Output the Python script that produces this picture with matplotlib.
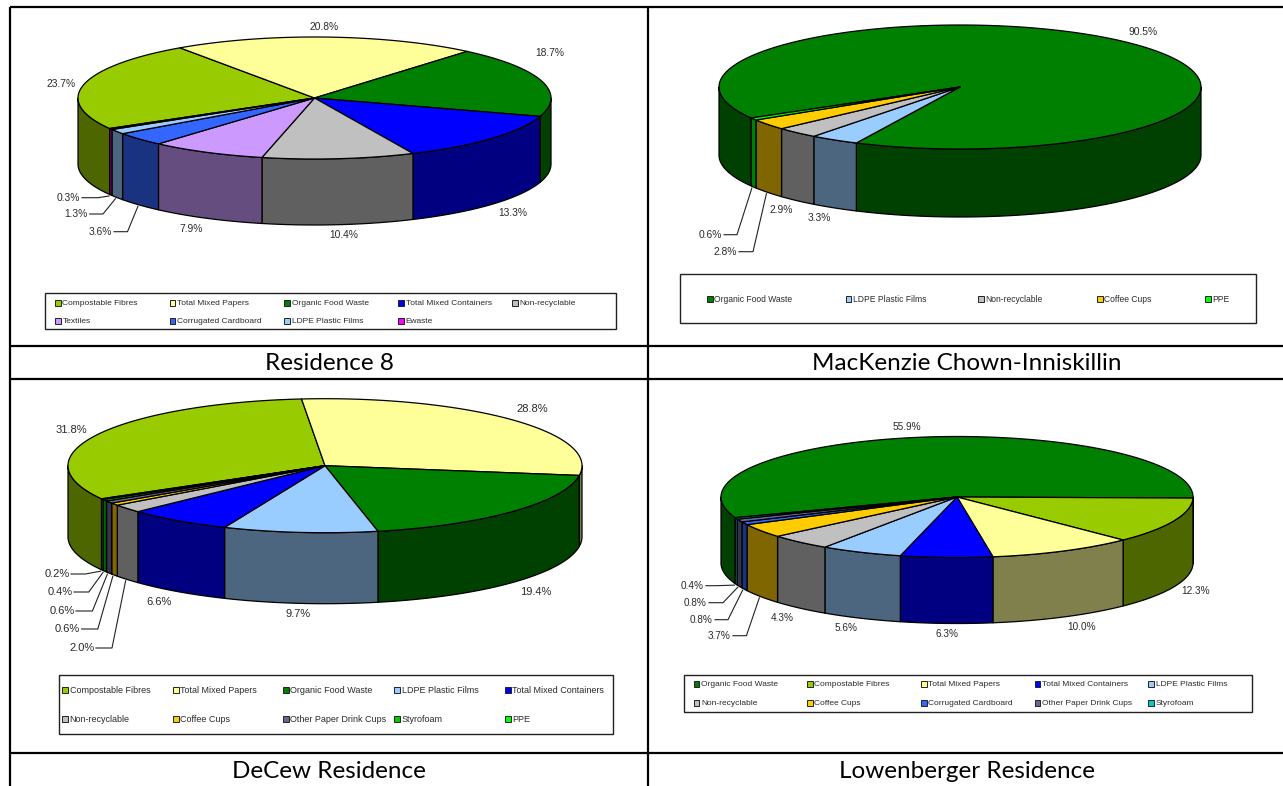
#!/usr/bin/env python3

import numpy as np
import matplotlib
matplotlib.use('Agg')
import matplotlib.pyplot as plt
from matplotlib.patches import Polygon, Rectangle

titles = ['Residence 8', 'MacKenzie Chown-Inniskillin', 'DeCew Residence',
    'Lowenberger Residence']

names_a = ['Compostable Fibres', 'Total Mixed Papers', 'Organic Food Waste',
    'Total Mixed Containers', 'Non-recyclable', 'Textiles',
    'Corrugated Cardboard', 'LDPE Plastic Films', 'Ewaste']
values_a = [23.7, 20.8, 18.7, 13.3, 10.4, 7.9, 3.6, 1.3, 0.3]

names_b = ['Organic Food Waste', 'LDPE Plastic Films', 'Non-recyclable',
    'Coffee Cups', 'PPE']
values_b = [90.5, 3.3, 2.9, 2.8, 0.6]

names_c = ['Compostable Fibres', 'Total Mixed Papers', 'Organic Food Waste',
    'LDPE Plastic Films', 'Total Mixed Containers', 'Non-recyclable',
    'Coffee Cups', 'Other Paper Drink Cups', 'Styrofoam', 'PPE']
values_c = [31.8, 28.8, 19.4, 9.7, 6.6, 2.0, 0.6, 0.6, 0.4, 0.2]

names_d = ['Organic Food Waste', 'Compostable Fibres', 'Total Mixed Papers',
    'Total Mixed Containers', 'LDPE Plastic Films', 'Non-recyclable',
    'Coffee Cups', 'Corrugated Cardboard', 'Other Paper Drink Cups',
    'Styrofoam']
values_d = [55.9, 12.3, 10.0, 6.3, 5.6, 4.3, 3.7, 0.8, 0.8, 0.4]

colors = {
    'Compostable Fibres': '#99cc00',
    'Total Mixed Papers': '#ffff99',
    'Organic Food Waste': '#008000',
    'Total Mixed Containers': '#0000ff',
    'Non-recyclable': '#c0c0c0',
    'Textiles': '#cc99ff',
    'Corrugated Cardboard': '#3366ff',
    'LDPE Plastic Films': '#99ccff',
    'Ewaste': '#ff00ff',
    'Coffee Cups': '#ffcc00',
    'PPE': '#00ff00',
    'Other Paper Drink Cups': '#666699',
    'Styrofoam': '#00cc00',
}

TEXT = '#2a2a2a'

figure = plt.figure(figsize=(12.83, 7.86), dpi=100)
ax = figure.add_axes([0, 0, 1, 1])
ax.set_xlim(0, 1283)
ax.set_ylim(786, 0)
ax.axis('off')


def point(pie, angle, drop=0.0, grow=0.0):
    cx, cy, rx, ry = pie['centre']
    x = cx + (rx + grow) * np.sin(np.radians(angle))
    y = cy - (ry + grow) * np.cos(np.radians(angle)) + drop
    return x, y


def draw_pie(pie):
    values = np.array(pie['values'], dtype=float)
    sweep = 360.0 * values / values.sum()
    start = pie['start'] + np.concatenate(([0.0], np.cumsum(sweep)[:-1]))
    depth = pie['depth']

    # side wall first, the top goes over it
    for name, a0, da in zip(pie['names'], start, sweep):
        colour = np.array(matplotlib.colors.to_rgb(pie['colors'].get(name, colors[name])))
        for shift in (-360, 0, 360):
            lo = max(a0 + shift, 90)
            hi = min(a0 + da + shift, 270)
            if hi <= lo:
                continue
            t = np.linspace(lo, hi, 60)
            x, y = point(pie, t)
            wall = np.c_[np.r_[x, x[::-1]], np.r_[y, y[::-1] + depth]]
            ax.add_patch(Polygon(wall, facecolor=colour * 0.5, edgecolor='k',
                linewidth=0.9, joinstyle='round'))

    for name, a0, da in zip(pie['names'], start, sweep):
        t = np.linspace(a0, a0 + da, max(int(da * 2), 4))
        x, y = point(pie, t)
        top = np.c_[np.r_[pie['centre'][0], x], np.r_[pie['centre'][1], y]]
        ax.add_patch(Polygon(top, facecolor=pie['colors'].get(name, colors[name]),
            edgecolor='k', linewidth=0.9, joinstyle='round'))

    # percentages, small slices get a leader line
    for value, a0, da, (tx, ty, elbow) in zip(pie['values'], start, sweep, pie['labels']):
        ax.text(tx, ty, '%.1f%%' % value, ha='center', va='center', color=TEXT,
            fontsize=pie['label_size'], family='Liberation Sans')
        if elbow is not None:
            ex, ey = point(pie, a0 + da / 2, depth, 2.0)
            ax.plot([tx + 14, elbow, ex], [ty, ty, ey], color='#222222', lw=0.8)

    # legend
    x0, y0, x1, y1 = pie['box']
    ax.add_patch(Rectangle((x0, y0), x1 - x0, y1 - y0, facecolor='white',
        edgecolor='#222222', linewidth=1.0))
    columns, rows = pie['grid']
    for i, name in enumerate(pie['names']):
        sx = columns[i % len(columns)]
        sy = rows[i // len(columns)]
        ax.add_patch(Rectangle((sx - 2.7, sy - 2.7), 5.4, 5.4,
            facecolor=pie['colors'].get(name, colors[name]), edgecolor='#222222', linewidth=0.7))
        ax.text(sx + 4.5, sy + 0.8, name, ha='left', va='center', color=TEXT,
            fontsize=pie['legend_size'], family='Liberation Sans')


pies = [
    dict(names=names_a, values=values_a, colors={}, start=240.0,
        centre=(314.5, 98, 236.5, 61), depth=66, label_size=7.4, legend_size=6.0,
        labels=[(60.6, 84, None), (324, 26.7, None), (549.6, 52.7, None),
            (513, 212.7, None), (344, 235, None), (191, 228.7, None),
            (100, 231.7, 127.5), (75.7, 214, 103), (68, 197.7, 98)],
        box=(44.7, 293, 616, 329), grid=((58, 172.5, 287, 401, 515), (303, 321))),
    dict(names=names_b, values=values_b, colors={}, start=240.0,
        centre=(960, 87, 241, 62), depth=68, label_size=7.4, legend_size=6.15,
        labels=[(1143, 31.7, None), (819.7, 217.7, None), (781, 210, None),
            (725, 251.7, 753), (710, 234.7, 737)],
        box=(680, 274, 1255.5, 323), grid=((710, 848.5, 981, 1100, 1208), (299,))),
    dict(names=names_c, values=values_c, colors={}, start=240.4,
        centre=(325, 465.7, 257, 67), depth=71, label_size=8.0, legend_size=6.5,
        labels=[(71.6, 430, None), (532.4, 409, None), (535.7, 592, None),
            (297.8, 614, None), (158.6, 602, None), (82, 648, 112),
            (67.6, 629, 97.8), (62, 611, 92.4), (60, 592, 88.8), (57, 574, 85.5)],
        box=(59, 675, 612.5, 734), grid=((65, 176, 286, 397, 508), (690, 719))),
    dict(names=names_d, values=values_d, colors={'Styrofoam': '#00cccc'}, start=250.0,
        centre=(957, 497, 236, 60.5), depth=66, label_size=7.2, legend_size=6.0,
        labels=[(906.4, 426.7, None), (1195.6, 590.7, None), (1082, 626.7, None),
            (947, 633.7, None), (845.7, 627.7, None), (782, 617.7, None),
            (719, 635.7, 746.4), (701, 619.7, 728), (695, 602.7, 723), (692, 585.7, 716)],
        box=(683.6, 675, 1252, 712), grid=((696.6, 810, 924, 1037.6, 1151), (684, 703))),
]

for pie in pies:
    draw_pie(pie)

# the table the charts sit in
for y in (7, 346, 379, 753):
    ax.plot([10, 1283], [y, y], color='k', lw=1.6, solid_capstyle='butt')
for x in (10, 648):
    ax.plot([x, x], [7, 786], color='k', lw=1.6, solid_capstyle='butt')

caption_x = (329, 967, 329, 967)
caption_y = (364, 364, 771, 771)
for x, y, title in zip(caption_x, caption_y, titles):
    ax.text(x, y, title, ha='center', va='center', color='k', fontsize=17.5,
        family='Lato')

figure.savefig('out.png', dpi=100)
